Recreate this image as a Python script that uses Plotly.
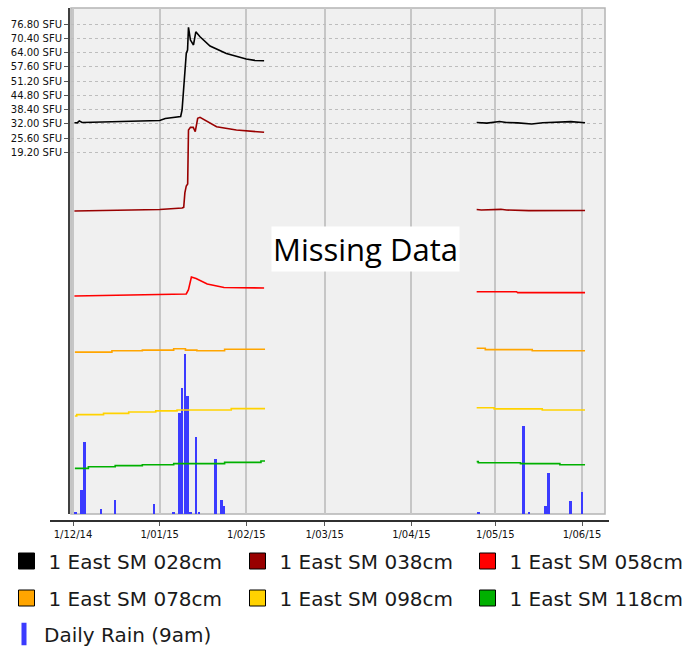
import plotly.graph_objects as go

# ---------------- data ----------------
tick_dates = ["2014-12-01", "2015-01-01", "2015-02-01", "2015-03-01",
              "2015-04-01", "2015-05-01", "2015-06-01"]
sfu_ticks = [19.2, 25.6, 32.0, 38.4, 44.8, 51.2, 57.6, 64.0, 70.4, 76.8]
sfu_labels = [f"{v:.2f} SFU" for v in sfu_ticks]

GAP = "2015-03-15"

sm028_dates = ["2014-12-01 12:00", "2014-12-02 12:00", "2014-12-03 06:00", "2014-12-04 06:00",
               "2014-12-08", "2014-12-14", "2014-12-20", "2014-12-26", "2015-01-01",
               "2015-01-03", "2015-01-06", "2015-01-08 12:00", "2015-01-09 00:00",
               "2015-01-09 19:00", "2015-01-10 12:00", "2015-01-10 23:00", "2015-01-11 07:00",
               "2015-01-12 00:00", "2015-01-13 02:00", "2015-01-13 22:00", "2015-01-15 10:00",
               "2015-01-19 00:00", "2015-01-24 20:00", "2015-01-31 22:00", "2015-02-04",
               "2015-02-07 08:00", GAP,
               "2015-04-24 08:00", "2015-04-28", "2015-05-02 12:00", "2015-05-05",
               "2015-05-09", "2015-05-14", "2015-05-18", "2015-05-23", "2015-05-28",
               "2015-06-02 02:00"]
sm028_vals = [32.5, 32.4, 33.3, 32.6, 32.7, 32.9, 33.1, 33.3, 33.5, 34.4, 34.8, 35.3, 38.2,
              51.7, 63.6, 65.1, 75.3, 69.6, 67.4, 73.3, 71.1, 66.9, 63.6, 61.1, 60.5, 60.3, None,
              32.6, 32.3, 33.0, 32.6, 32.4, 31.9, 32.5, 32.6, 33.0, 32.5]

sm038_dates = ["2014-12-01 12:00", "2014-12-16", "2015-01-01", "2015-01-09 00:00",
               "2015-01-09 14:00", "2015-01-10 00:00", "2015-01-10 12:00", "2015-01-11 00:00",
               "2015-01-11 07:00", "2015-01-12 00:00", "2015-01-13 00:00", "2015-01-13 17:00",
               "2015-01-14 14:00", "2015-01-15 10:00", "2015-01-21 08:00", "2015-01-28 10:00",
               "2015-02-07 08:00", GAP,
               "2015-04-24 08:00", "2015-04-26", "2015-05-03", "2015-05-05", "2015-05-13",
               "2015-06-02 02:00"]
sm038_vals = [-7.15, -6.9, -6.5, -5.8, -5.5, 1.0, 4.1, 5.0, 29.2, 30.4, 30.4, 28.45,
              34.5, 34.9, 30.7, 29.2, 28.2, None,
              -6.5, -6.7, -6.4, -6.7, -7.0, -6.9]

sm058_dates = ["2014-12-01 12:00", "2014-12-20", "2015-01-10 12:00", "2015-01-11 07:00",
               "2015-01-11 18:00", "2015-01-12 08:00", "2015-01-14 00:00", "2015-01-18 00:00",
               "2015-01-24 00:00", "2015-02-07 08:00", GAP,
               "2015-04-24 08:00", "2015-05-08 14:00", "2015-05-09 00:00", "2015-06-02 02:00"]
sm058_vals = [-45.3, -44.9, -44.4, -42.5, -39.5, -36.8, -37.5, -39.9, -41.5, -41.7, None,
              -43.4, -43.4, -43.8, -43.8]

sm078_dates = ["2014-12-01 16:00", "2014-12-14 22:00", "2014-12-25 19:00", "2015-01-06 00:00",
               "2015-01-10 05:00", "2015-01-14 07:00", "2015-01-24 05:00", "2015-02-07 16:00", GAP,
               "2015-04-24 08:00", "2015-04-27 10:00", "2015-05-14 05:00", "2015-06-02 02:00"]
sm078_vals = [-70.5, -69.9, -69.6, -69.0, -69.6, -69.9, -69.2, -69.2, None,
              -68.8, -69.4, -69.9, -69.9]

sm098_dates = ["2014-12-01 16:00", "2014-12-02 08:00", "2014-12-11 22:00", "2014-12-20 22:00",
               "2014-12-30 14:00", "2015-01-07 05:00", "2015-01-26 14:00", "2015-02-07 16:00", GAP,
               "2015-04-24 08:00", "2015-04-30 14:00", "2015-05-17 19:00", "2015-06-02 02:00"]
sm098_vals = [-99.2, -98.6, -98.0, -97.4, -96.9, -96.5, -95.9, -95.9, None,
              -95.5, -96.0, -96.5, -96.5]

sm118_dates = ["2014-12-01 16:00", "2014-12-06 12:00", "2014-12-16 02:00", "2014-12-25 19:00",
               "2015-01-06 00:00", "2015-01-24 05:00", "2015-02-06 05:00", "2015-02-07 16:00", GAP,
               "2015-04-24 08:00", "2015-04-24 22:00", "2015-05-10 00:00", "2015-05-24 02:00",
               "2015-06-02 02:00"]
sm118_vals = [-122.7, -122.0, -121.5, -121.1, -120.6, -120.0, -119.4, -119.4, None,
              -119.7, -120.2, -120.6, -121.1, -121.1]

rain_dates = ["2014-12-02", "2014-12-04", "2014-12-05", "2014-12-11", "2014-12-16",
              "2014-12-30", "2015-01-06", "2015-01-08", "2015-01-09", "2015-01-10",
              "2015-01-11", "2015-01-12", "2015-01-14", "2015-01-15", "2015-01-21",
              "2015-01-23", "2015-01-24", "2015-04-25", "2015-05-11", "2015-05-13",
              "2015-05-19", "2015-05-20", "2015-05-28", "2015-06-01"]
rain_mm = [0.4, 4.7, 14.2, 1.0, 2.8, 2.0, 0.4, 19.9, 25.0, 31.6, 23.4, 0.4, 15.2, 0.4,
           10.8, 2.8, 1.6, 0.4, 17.4, 0.4, 1.6, 8.2, 2.5, 4.3]

series = [
    ("1 East SM 028cm", sm028_dates, sm028_vals, "#000000", "linear"),
    ("1 East SM 038cm", sm038_dates, sm038_vals, "#990000", "linear"),
    ("1 East SM 058cm", sm058_dates, sm058_vals, "#ff0000", "linear"),
    ("1 East SM 078cm", sm078_dates, sm078_vals, "#ffa500", "hv"),
    ("1 East SM 098cm", sm098_dates, sm098_vals, "#ffd200", "hv"),
    ("1 East SM 118cm", sm118_dates, sm118_vals, "#00b000", "hv"),
]
RAIN_NAME = "Daily Rain (9am)"
RAIN_COLOR = "#3b3bff"

# ---------------- figure ----------------
W, H = 686, 647
ML, MR, MT, MB = 69, 81, 8, 126
PW, PH = W - ML - MR, H - MT - MB


def px_x(px):
    return (px - ML) / PW


def px_y(py):
    return (H - MB - py) / PH


fig = go.Figure()

fig.add_trace(go.Bar(x=rain_dates, y=rain_mm, width=86400000 * 0.95,
                     marker=dict(color=RAIN_COLOR, line=dict(width=0)),
                     xaxis="x", yaxis="y", showlegend=False, name=RAIN_NAME))

for name, d, v, c, shape in series:
    fig.add_trace(go.Scatter(x=d, y=v, mode="lines", line=dict(color=c, width=1.6, shape=shape),
                             connectgaps=False, xaxis="x", yaxis="y2", showlegend=False, name=name))

# legend layout: one legend box per entry (3 columns x 2 rows + rain row)
legend_slots = [(4.5, 561), (235.5, 561), (465.5, 561),
                (4.5, 598), (235.5, 598), (465.5, 598)]
leg_font = dict(family="DejaVu Sans", size=20, color="#1a1a1a")
legend_layouts = {}
for i, (name, d, v, c, shape) in enumerate(series):
    key = "legend" if i == 0 else f"legend{i + 1}"
    fig.add_trace(go.Scatter(x=[None], y=[None], mode="markers", name=name, legend=key,
                             marker=dict(symbol="square", size=16, color=c,
                                         line=dict(color="#000000", width=1)),
                             xaxis="x", yaxis="y2"))
    lx, ly = legend_slots[i]
    legend_layouts[key] = dict(x=px_x(lx), y=px_y(ly), xanchor="left", yanchor="middle",
                               orientation="h", itemwidth=34, font=leg_font,
                               bgcolor="rgba(0,0,0,0)", itemclick=False, itemdoubleclick=False)

fig.add_trace(go.Scatter(x=[None], y=[None], mode="markers", name=RAIN_NAME, legend="legend7",
                         marker=dict(symbol="line-ns", size=16, color=RAIN_COLOR,
                                     line=dict(color=RAIN_COLOR, width=5)),
                         xaxis="x", yaxis="y2"))
legend_layouts["legend7"] = dict(x=px_x(4), y=px_y(634), xanchor="left", yanchor="middle",
                                 orientation="h", itemwidth=30, font=leg_font,
                                 bgcolor="rgba(0,0,0,0)", itemclick=False, itemdoubleclick=False)

ydom0 = 7 / PH
xdom0 = 2 / PW

fig.update_layout(
    width=W, height=H,
    margin=dict(l=ML, r=MR, t=MT, b=MB, autoexpand=False),
    paper_bgcolor="#ffffff", plot_bgcolor="#f0f0f0",
    bargap=0,
    xaxis=dict(type="date", domain=[xdom0, 1], anchor="free", position=0,
               range=["2014-11-30 06:50", "2015-06-09 05:17"],
               tickvals=tick_dates, tickformat="%-d/%m/%y",
               ticks="outside", ticklen=4, tickcolor="#555555", tickwidth=1,
               showgrid=True, gridcolor="#c6c6c6", gridwidth=1.5,
               showline=False, zeroline=False,
               tickfont=dict(family="DejaVu Sans", size=10, color="#111111")),
    yaxis=dict(domain=[ydom0, 1], range=[0, 100], showgrid=False, zeroline=False,
               showticklabels=False, ticks="", showline=False, anchor="x"),
    yaxis2=dict(overlaying="y", anchor="free", position=0, side="left",
                range=[-143.2, 84.0], tickvals=sfu_ticks, ticktext=sfu_labels,
                ticks="outside", ticklen=4, tickcolor="#555555", tickwidth=1,
                showgrid=True, gridcolor="#bdbdbd", gridwidth=1, griddash="3px,3px",
                zeroline=False, showline=True, linecolor="#404040", linewidth=2,
                tickfont=dict(family="DejaVu Sans", size=10, color="#111111")),
    showlegend=True,
    **legend_layouts,
)

# plot area border and x axis baseline
fig.add_shape(type="rect", xref="paper", yref="paper", x0=xdom0, x1=1, y0=ydom0, y1=1,
              line=dict(color="#b4b4b4", width=1.5), fillcolor="rgba(0,0,0,0)", layer="below")
fig.add_shape(type="line", xref="paper", yref="paper", x0=px_x(50), x1=px_x(609), y0=0, y1=0,
              line=dict(color="#303030", width=2))

fig.add_annotation(text="Missing Data", xref="paper", yref="paper",
                   x=px_x(365.5), y=px_y(249), showarrow=False,
                   font=dict(family="Open Sans", size=31, color="#000000"),
                   bgcolor="#ffffff", borderpad=1, xanchor="center", yanchor="middle")

fig.write_html("out.html")
